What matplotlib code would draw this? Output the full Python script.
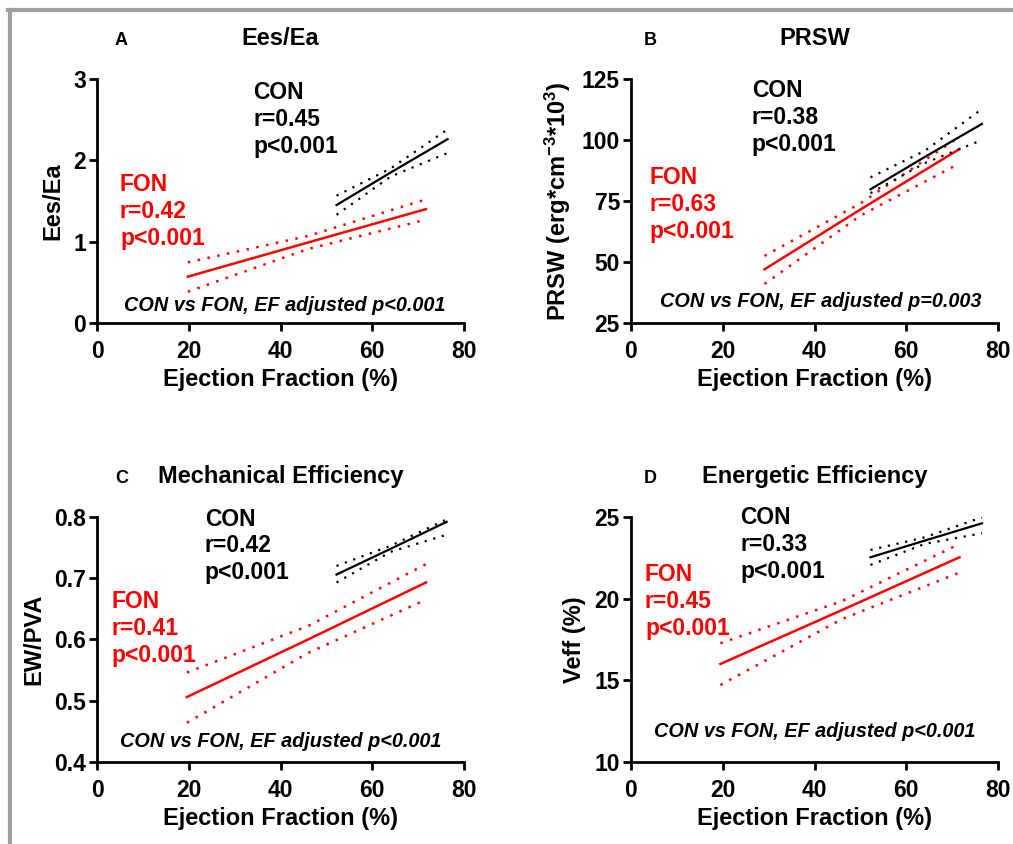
import matplotlib
matplotlib.use('Agg')
import matplotlib.pyplot as plt
from matplotlib.lines import Line2D

plt.rcParams['font.family'] = ['Liberation Sans', 'DejaVu Sans']
plt.rcParams['font.weight'] = 'bold'
plt.rcParams['mathtext.default'] = 'regular'

# x positions (EF, %) of the start / middle / end of each fit line
fon_x = {'A': [19.8, 46.0, 71.7], 'B': [29.1, 50.0, 71.6], 'C': [19.6, 46.0, 71.7], 'D': [19.5, 46.0, 71.6]}
con_x = {'A': [52.2, 64.0, 76.4], 'B': [52.2, 64.0, 76.5], 'C': [52.2, 64.0, 76.2], 'D': [52.2, 64.0, 76.5]}

# regression lines and 95% CI bands
fon_fit = {'A': [0.57, 0.99, 1.40], 'B': [47.0, 71.5, 96.3], 'C': [0.506, 0.600, 0.693], 'D': [16.0, 19.3, 22.53]}
fon_hi = {'A': [0.746, 1.07, 1.52], 'B': [52.5, 74.0, 101.3], 'C': [0.546, 0.622, 0.723], 'D': [17.27, 19.85, 23.35]}
fon_lo = {'A': [0.385, 0.91, 1.27], 'B': [41.0, 69.0, 90.4], 'C': [0.464, 0.578, 0.665], 'D': [14.71, 18.75, 21.59]}

con_fit = {'A': [1.45, 1.85, 2.26], 'B': [79.8, 93.0, 106.6], 'C': [0.706, 0.748, 0.792], 'D': [22.53, 23.55, 24.61]}
con_hi = {'A': [1.565, 1.90, 2.38], 'B': [84.7, 95.5, 112.7], 'C': [0.720, 0.753, 0.796], 'D': [22.98, 23.75, 24.98]}
con_lo = {'A': [1.33, 1.80, 2.09], 'B': [78.2, 90.5, 100.0], 'C': [0.693, 0.743, 0.771], 'D': [22.06, 23.35, 24.0]}

letters = ['A', 'B', 'C', 'D']
titles = ['Ees/Ea', 'PRSW', 'Mechanical Efficiency', 'Energetic Efficiency']
ylabels = ['Ees/Ea', r'PRSW (erg*cm$^{-3}$*10$^{3}$)', 'EW/PVA', 'Veff (%)']
yticks = {'A': [0, 1, 2, 3], 'B': [25, 50, 75, 100, 125],
          'C': [0.4, 0.5, 0.6, 0.7, 0.8], 'D': [10, 15, 20, 25]}
ytick_labels = {'A': ['0', '1', '2', '3'], 'B': ['25', '50', '75', '100', '125'],
                'C': ['0.4', '0.5', '0.6', '0.7', '0.8'], 'D': ['10', '15', '20', '25']}
xticks = [0, 20, 40, 60, 80]

con_r = {'A': '0.45', 'B': '0.38', 'C': '0.42', 'D': '0.33'}
fon_r = {'A': '0.42', 'B': '0.63', 'C': '0.41', 'D': '0.45'}
adj_p = {'A': 'p<0.001', 'B': 'p=0.003', 'C': 'p<0.001', 'D': 'p<0.001'}

# text anchors (data coords): left edge / baseline of last line of each block, note centre
con_pos = {'A': (34.0, 2.09), 'B': (26.3, 95.6), 'C': (23.5, 0.698), 'D': (23.8, 21.25)}
fon_pos = {'A': (5.0, 0.96), 'B': (4.1, 60.0), 'C': (3.05, 0.564), 'D': (3.05, 17.8)}
note_pos = {'A': (41.0, 0.15), 'B': (41.3, 31.7), 'C': (40.0, 0.424), 'D': (40.1, 11.55)}

rect = {'A': [0.0958, 0.6173, 0.3623, 0.2891], 'B': [0.6229, 0.6173, 0.3623, 0.2891],
        'C': [0.0958, 0.0972, 0.3623, 0.2903], 'D': [0.6229, 0.0972, 0.3623, 0.2903]}

fig = plt.figure(figsize=(10.13, 8.44), dpi=100)
red = '#ff0000'
dots = (0, (1, 3))

for k, title, ylab in zip(letters, titles, ylabels):
    ax = fig.add_axes(rect[k])
    yt = yticks[k]

    ax.plot(fon_x[k], fon_fit[k], color=red, lw=1.8)
    ax.plot(fon_x[k], fon_hi[k], color=red, lw=1.8, ls=dots)
    ax.plot(fon_x[k], fon_lo[k], color=red, lw=1.8, ls=dots)
    ax.plot(con_x[k], con_fit[k], color='black', lw=1.6)
    ax.plot(con_x[k], con_hi[k], color='black', lw=1.6, ls=dots)
    ax.plot(con_x[k], con_lo[k], color='black', lw=1.6, ls=dots)

    ax.set_xlim(0, 80)
    ax.set_ylim(yt[0], yt[-1])
    ax.set_xticks(xticks)
    ax.set_yticks(yt)
    ax.set_yticklabels(ytick_labels[k])
    for s in ['top', 'right']:
        ax.spines[s].set_visible(False)
    for s in ['left', 'bottom']:
        ax.spines[s].set_linewidth(2)
    ax.tick_params(direction='out', length=6, width=2, labelsize=16.5)
    ax.tick_params(axis='x', pad=6)
    ax.tick_params(axis='y', pad=2)
    for lab in ax.get_xticklabels() + ax.get_yticklabels():
        lab.set_fontweight('bold')

    ax.set_xlabel('Ejection Fraction (%)', fontsize=17, fontweight='bold', labelpad=4)
    ax.set_ylabel(ylab, fontsize=17, fontweight='bold', labelpad=6)

    ax.text(0.5, 1.139, title, transform=ax.transAxes, ha='center', va='baseline',
            fontsize=17, fontweight='bold')
    lx = 0.049 if k in ('A', 'C') else 0.035
    ax.text(lx, 1.139, k, transform=ax.transAxes, ha='left', va='baseline',
            fontsize=13, fontweight='bold')

    cx, cy = con_pos[k]
    ax.text(cx, cy, 'CON\nr=%s\np<0.001' % con_r[k], ha='left', va='baseline',
            fontsize=16.5, fontweight='bold', color='black', linespacing=1.22)
    fx, fy = fon_pos[k]
    ax.text(fx, fy, 'FON\nr=%s\np<0.001' % fon_r[k], ha='left', va='baseline',
            fontsize=16.5, fontweight='bold', color=red, linespacing=1.22)
    nx, ny = note_pos[k]
    ax.text(nx, ny, 'CON vs FON, EF adjusted ' + adj_p[k], ha='center', va='baseline',
            fontsize=14.3, fontweight='bold', style='italic')

# grey frame of the source figure
fig.add_artist(Line2D([0.0098, 0.0098], [0, 0.9882], transform=fig.transFigure,
                      color='#a0a0a0', lw=3))
fig.add_artist(Line2D([0.0083, 1.0], [0.9882, 0.9882], transform=fig.transFigure,
                      color='#a0a0a0', lw=3))

fig.savefig('out.png', dpi=100)
